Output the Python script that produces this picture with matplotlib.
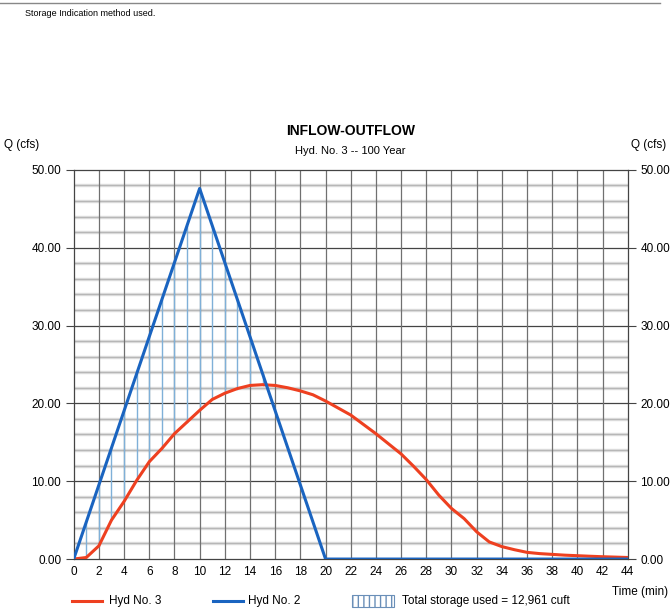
import numpy as np
import matplotlib
matplotlib.use("Agg")
import matplotlib.pyplot as plt
from matplotlib.lines import Line2D
from matplotlib.patches import Rectangle

plt.rcParams.update({"font.family": ["Liberation Sans", "DejaVu Sans"], "font.size": 8.5})

# Hyd No. 2 (inflow) - triangular hydrograph
inflow_t = [0, 10, 20, 44]
inflow_q = [0.0, 47.6, 0.0, 0.0]

# Hyd No. 3 (outflow), one value per minute
out_t = list(range(0, 45))
out_q = [0.0, 0.2, 1.7, 5.0, 7.4, 10.1, 12.5, 14.2, 16.1, 17.6,
         19.1, 20.5, 21.3, 21.9, 22.3, 22.4, 22.3, 22.0, 21.6, 21.1,
         20.3, 19.4, 18.5, 17.3, 16.1, 14.8, 13.5, 11.9, 10.2, 8.2,
         6.5, 5.2, 3.5, 2.2, 1.6, 1.2, 0.86, 0.7, 0.6, 0.5,
         0.43, 0.36, 0.3, 0.25, 0.2]

RED = "#ee4020"
BLUE = "#1a64c0"
HATCH = "#7fb0d8"

fig = plt.figure(figsize=(6.7, 6.13), dpi=100)
ax = fig.add_axes([0.110, 0.088, 0.827, 0.635])

# grid
for y in np.arange(2, 50, 2):
    if y % 10:
        ax.axhline(y, color="#dadada", lw=2.4, zorder=0)
        ax.axhline(y, color="#a8a8a8", lw=0.5, zorder=0.5)
for y in range(10, 50, 10):
    ax.axhline(y, color="#444444", lw=0.9, zorder=0.6)
for x in range(2, 44, 2):
    ax.axvline(x, color="#707070", lw=0.9, zorder=0.6)

# storage hatch: vertical lines between inflow and outflow
inq = np.interp(out_t, inflow_t, inflow_q)
for t, a, b in zip(out_t, inq, out_q):
    if a > b + 0.3:
        ax.plot([t, t], [b, a], color=HATCH, lw=1.0, zorder=1)

ax.plot(out_t, out_q, color=RED, lw=2.2, zorder=3)
ax.plot(inflow_t, inflow_q, color=BLUE, lw=2.2, zorder=3)

ax.set_xlim(0, 44)
ax.set_ylim(0, 50)
ax.set_xticks(range(0, 45, 2))
ax.set_yticks(range(0, 51, 10))
ax.set_yticklabels([f"{v:.2f}" for v in range(0, 51, 10)])
ax.tick_params(axis="y", which="both", left=True, right=True, labelleft=True,
               labelright=True, length=6, color="#444444", pad=3, labelsize=8.5)
ax.tick_params(axis="x", length=0, pad=5, labelsize=8.5)
for s in ax.spines.values():
    s.set_color("#444444")
    s.set_linewidth(0.9)

# header / titles
fig.add_artist(Line2D([0.0, 0.985], [0.995, 0.995], color="#888888", lw=1.0))
fig.text(0.037, 0.978, "Storage Indication method used.", fontsize=6.5, va="center")
fig.text(0.523, 0.786, "INFLOW-OUTFLOW", fontsize=10, fontweight="bold", ha="center", va="center")
fig.text(0.523, 0.754, "Hyd. No. 3 -- 100 Year", fontsize=8, ha="center", va="center")
fig.text(0.006, 0.763, "Q (cfs)", fontsize=8.5, va="center")
fig.text(0.994, 0.763, "Q (cfs)", fontsize=8.5, ha="right", va="center")
fig.text(0.997, 0.034, "Time (min)", fontsize=8.5, ha="right", va="center")

# legend
ly = 0.019
fig.add_artist(Line2D([0.107, 0.152], [ly, ly], color=RED, lw=2.2))
fig.text(0.162, ly, "Hyd No. 3", fontsize=8.5, va="center")
fig.add_artist(Line2D([0.318, 0.363], [ly, ly], color=BLUE, lw=2.2))
fig.text(0.370, ly, "Hyd No. 2", fontsize=8.5, va="center")
fig.add_artist(Rectangle((0.525, ly - 0.010), 0.063, 0.020, transform=fig.transFigure,
                         facecolor="white", edgecolor="#6a8fb8", hatch="|||", lw=0.8))
fig.text(0.600, ly, "Total storage used = 12,961 cuft", fontsize=8.5, va="center")

fig.savefig("out.png", dpi=100)
